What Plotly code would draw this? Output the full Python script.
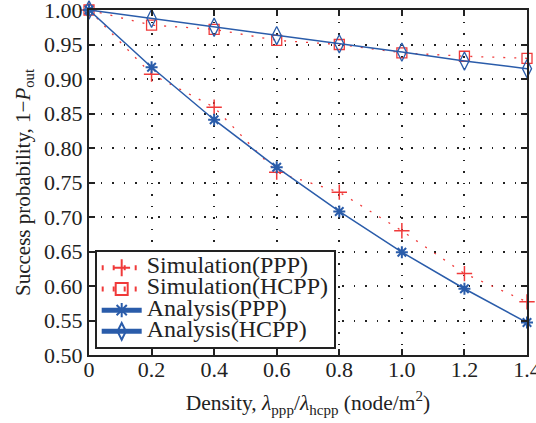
import plotly.graph_objects as go

density = [0, 0.2, 0.4, 0.6, 0.8, 1.0, 1.2, 1.4]
sim_ppp = [1.0, 0.907, 0.859, 0.765, 0.736, 0.680, 0.618, 0.577]
sim_hcpp = [1.0, 0.978, 0.972, 0.956, 0.950, 0.938, 0.933, 0.930]
ana_ppp = [1.0, 0.917, 0.841, 0.772, 0.708, 0.649, 0.596, 0.547]
ana_hcpp = [1.0, 0.988, 0.975, 0.963, 0.951, 0.939, 0.926, 0.915]
xticks = [0, 0.2, 0.4, 0.6, 0.8, 1.0, 1.2, 1.4]
xticklabels = ["0", "0.2", "0.4", "0.6", "0.8", "1.0", "1.2", "1.4"]
yticks = [0.50, 0.55, 0.60, 0.65, 0.70, 0.75, 0.80, 0.85, 0.90, 0.95, 1.00]

RED = "#f03a3a"
BLUE = "#2a5caa"
FONT = "Liberation Serif, Times New Roman, serif"
TXT = "#222"


def lbl(s):
    return '<span style="font-size:24px">' + s + '</span>'


fig = go.Figure()
fig.add_trace(go.Scatter(x=density, y=sim_ppp, mode="lines+markers", name=lbl("Simulation(PPP)"),
                         cliponaxis=False,
                         line=dict(color=RED, width=1.3, dash="2px,9px"),
                         marker=dict(symbol="cross-thin", size=11, line=dict(color=RED, width=1.5), color=RED)))
fig.add_trace(go.Scatter(x=density, y=sim_hcpp, mode="lines+markers", name=lbl("Simulation(HCPP)"),
                         cliponaxis=False,
                         line=dict(color=RED, width=1.3, dash="2px,9px"),
                         marker=dict(symbol="square-open", size=10, line=dict(color=RED, width=1.3), color=RED)))
fig.add_trace(go.Scatter(x=density, y=ana_ppp, mode="lines+markers", name=lbl("Analysis(PPP)"),
                         cliponaxis=False,
                         line=dict(color=BLUE, width=1.5),
                         marker=dict(symbol="asterisk-open", size=10, line=dict(color=BLUE, width=2), color=BLUE)))
fig.add_trace(go.Scatter(x=density, y=ana_hcpp, mode="lines+markers", name=lbl("Analysis(HCPP)"),
                         cliponaxis=False,
                         line=dict(color=BLUE, width=1.5),
                         marker=dict(symbol="diamond-tall-open", size=13, line=dict(color=BLUE, width=1.3), color=BLUE)))

axis_common = dict(showline=True, linecolor="#222", linewidth=2, mirror="ticks",
                   ticks="inside", ticklen=6, tickcolor="#222", tickwidth=2,
                   showgrid=True, gridcolor="#222", griddash="1.5px,10px", gridwidth=1.5,
                   zeroline=False, ticklabeloverflow="allow", automargin=False,
                   tickfont=dict(family=FONT, size=22, color=TXT))

fig.update_xaxes(range=[0, 1.4], tickvals=xticks, ticktext=xticklabels, ticklabelstandoff=-6,
                 title=dict(text="Density, <i>λ</i><sub>ppp</sub>/<i>λ</i><sub>hcpp</sub> (node/m<sup>2</sup>)",
                            font=dict(family=FONT, size=21.5, color=TXT), standoff=14),
                 **axis_common)
fig.update_yaxes(range=[0.5, 1.0], tickvals=yticks, tickformat=".2f",
                 title=dict(text="Success probability, 1−<i>P</i><sub>out</sub>",
                            font=dict(family=FONT, size=21, color=TXT), standoff=8),
                 **axis_common)

fig.update_layout(
    width=536, height=423,
    margin=dict(l=89, r=9, t=10, b=68),
    plot_bgcolor="white", paper_bgcolor="white",
    font=dict(family=FONT, size=21, color=TXT),
    legend=dict(x=0.013, y=0.017, xanchor="left", yanchor="bottom",
                bgcolor="white", bordercolor="#222", borderwidth=2,
                font=dict(family=FONT, size=14, color=TXT),
                tracegroupgap=0, itemsizing="constant", itemwidth=40),
    showlegend=True,
)

fig.write_html("out.html", config={"displayModeBar": False},
               post_script="document.body.style.margin='0px';")
